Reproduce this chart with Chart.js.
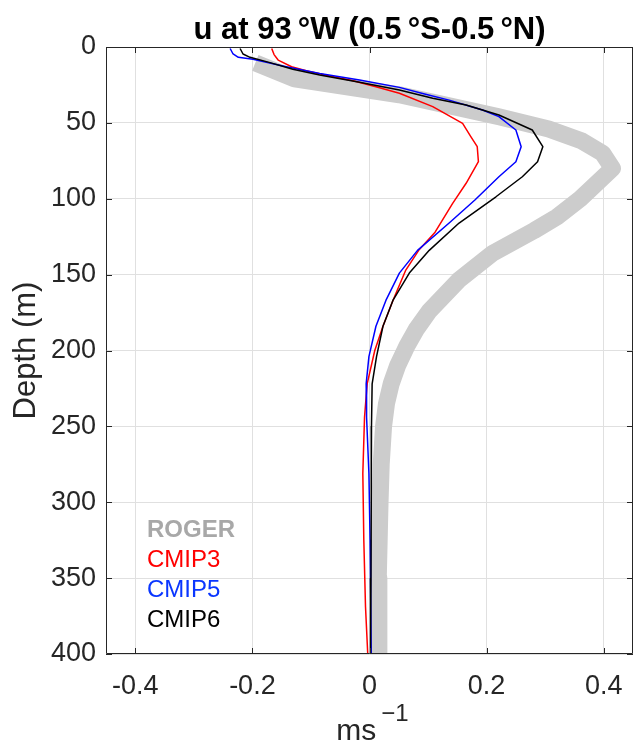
<!DOCTYPE html>
<html>
<head>
<meta charset="utf-8">
<script src="https://cdn.jsdelivr.net/npm/chart.js@4.4.0/dist/chart.umd.min.js"></script>
<style>
  html, body { margin: 0; padding: 0; background: #fff; }
  #wrap { width: 633px; height: 746px; position: relative; }
</style>
</head>
<body>
<div id="wrap"><canvas id="chart"></canvas></div>
<script>
const FONT = "'Liberation Sans', Arial, Helvetica, sans-serif";

const seriesNames = ['ROGER', 'CMIP3', 'CMIP5', 'CMIP6'];
const lineColors = ['#cccccc', '#ff0000', '#0000ff', '#000000'];
const legendColors = ['#a8a8a8', '#ff0000', '#0a36ff', '#000000'];

// depth (m) and zonal velocity u (m/s)
const rogerDepth = [10.5, 21, 31.5, 46, 54, 62, 70, 80, 100, 112, 121, 136, 153.5, 174, 186, 197, 210, 222, 235, 250, 275, 300, 350, 400];
const rogerU = [-0.195, -0.128, 0.051, 0.221, 0.306, 0.363, 0.398, 0.415, 0.36, 0.32, 0.281, 0.21, 0.153, 0.102, 0.08, 0.064, 0.048, 0.037, 0.029, 0.024, 0.02, 0.018, 0.015, 0.016];

const cmip3Depth = [1, 5, 8.6, 13, 15.6, 19.1, 22.2, 26.2, 30.5, 39.3, 50.3, 59, 65.7, 75.6, 89.8, 103, 122, 134, 147, 167, 184, 200, 222, 244, 281, 325, 369, 400];
const cmip3U = [-0.167, -0.163, -0.156, -0.133, -0.108, -0.068, -0.028, 0.011, 0.051, 0.108, 0.159, 0.173, 0.184, 0.186, 0.165, 0.142, 0.112, 0.084, 0.062, 0.04, 0.023, 0.009, -0.004, -0.0085, -0.0114, -0.0097, -0.0068, -0.003];

const cmip5Depth = [1, 4.6, 6.8, 8.1, 13, 17.4, 21.7, 26.6, 31, 35, 41.5, 45.9, 54.7, 65.7, 75.6, 85.5, 100.8, 116, 134, 149, 167, 184, 204, 222, 244, 281, 325, 360, 400];
const cmip5U = [-0.238, -0.233, -0.224, -0.199, -0.142, -0.085, -0.017, 0.051, 0.094, 0.136, 0.193, 0.221, 0.25, 0.259, 0.25, 0.221, 0.18, 0.136, 0.082, 0.051, 0.028, 0.011, -0.001, -0.0057, -0.005, -0.001, 0.001, 0.002, 0.003];

const cmip6Depth = [1, 4.6, 6.8, 10.3, 14.7, 18.5, 23.3, 28.3, 33.8, 38.2, 44.8, 54.7, 65.7, 75.6, 85.5, 98.7, 116, 134, 149, 167, 184, 204, 222, 250, 300, 350, 400];
const cmip6U = [-0.221, -0.216, -0.204, -0.170, -0.131, -0.085, -0.017, 0.051, 0.108, 0.165, 0.221, 0.278, 0.296, 0.287, 0.261, 0.216, 0.153, 0.102, 0.068, 0.04, 0.023, 0.012, 0.0045, 0.0034, 0.003, 0.0025, 0.0017];

const xTicks = [-0.4, -0.2, 0, 0.2, 0.4];
const yTicks = [0, 50, 100, 150, 200, 250, 300, 350, 400];

const toPoints = (us, depths) => us.map((u, i) => ({ x: u, y: depths[i] }));

const frame = {
  id: 'frame',
  afterDatasetsDraw(chart) {
    const { ctx, chartArea: a, scales: { x, y } } = chart;
    ctx.save();
    ctx.strokeStyle = '#262626';
    ctx.lineWidth = 1;
    ctx.beginPath();
    ctx.rect(Math.round(a.left) + 0.5, Math.round(a.top) + 0.5, Math.round(a.width) - 1, Math.round(a.height) - 1);
    const tl = 6;
    xTicks.forEach(v => {
      const px = Math.round(x.getPixelForValue(v)) + 0.5;
      ctx.moveTo(px, a.bottom); ctx.lineTo(px, a.bottom - tl);
      ctx.moveTo(px, a.top); ctx.lineTo(px, a.top + tl);
    });
    yTicks.forEach(v => {
      const py = Math.round(y.getPixelForValue(v)) + 0.5;
      ctx.moveTo(a.left, py); ctx.lineTo(a.left + tl, py);
      ctx.moveTo(a.right, py); ctx.lineTo(a.right - tl, py);
    });
    ctx.stroke();

    // legend as coloured text
    ctx.textAlign = 'left';
    ctx.textBaseline = 'alphabetic';
    seriesNames.forEach((name, i) => {
      ctx.font = (i === 0 ? 'bold ' : '') + '24px ' + FONT;
      ctx.fillStyle = legendColors[i];
      ctx.fillText(name, 147, 537 + i * 30);
    });

    // title
    const cx = (a.left + a.right) / 2;
    ctx.fillStyle = '#000';
    ctx.textAlign = 'center';
    ctx.font = 'bold 31px ' + FONT;
    ctx.fillText('u at 93\u2009°W (0.5\u2009°S-0.5\u2009°N)', cx, 39);

    // x axis title with superscript
    ctx.fillStyle = '#262626';
    ctx.font = '30px ' + FONT;
    const w1 = ctx.measureText('ms').width;
    ctx.font = '24px ' + FONT;
    const w2 = ctx.measureText('\u22121').width;
    const gap = 5;
    const x0 = cx + 3 - (w1 + gap + w2) / 2;
    ctx.textAlign = 'left';
    ctx.font = '30px ' + FONT;
    ctx.fillText('ms', x0, 740);
    ctx.font = '24px ' + FONT;
    ctx.fillText('\u22121', x0 + w1 + gap, 721);
    ctx.restore();
  }
};

const ds = (i, us, depths, width, order) => ({
  label: seriesNames[i],
  data: toPoints(us, depths),
  borderColor: lineColors[i],
  backgroundColor: lineColors[i],
  borderWidth: width,
  showLine: true,
  pointRadius: 0,
  tension: 0,
  clip: 0,
  order: order,
  borderCapStyle: 'butt',
  borderJoinStyle: 'round'
});

new Chart(document.getElementById('chart'), {
  type: 'scatter',
  data: {
    datasets: [
      ds(0, rogerU, rogerDepth, 17, 4),
      ds(1, cmip3U, cmip3Depth, 1.5, 3),
      ds(2, cmip5U, cmip5Depth, 1.5, 2),
      ds(3, cmip6U, cmip6Depth, 1.5, 1)
    ]
  },
  options: {
    responsive: true,
    maintainAspectRatio: false,
    animation: false,
    layout: { padding: { top: 47, right: 0, left: 0, bottom: 0 } },
    plugins: {
      legend: { display: false },
      title: { display: false },
      tooltip: { enabled: false }
    },
    scales: {
      x: {
        type: 'linear',
        min: -0.45,
        max: 0.45,
        afterBuildTicks: s => { s.ticks = xTicks.map(v => ({ value: v })); },
        afterFit: s => { s.height = 92; s.paddingLeft = 0; s.paddingRight = 0; },
        grid: { color: '#e0e0e0', drawTicks: false },
        border: { display: false },
        ticks: {
          color: '#262626',
          font: { family: FONT, size: 27 },
          padding: 16,
          maxRotation: 0,
          callback: v => (v === 0 ? '0' : v.toFixed(1))
        }
      },
      y: {
        type: 'linear',
        reverse: true,
        min: 0,
        max: 400,
        afterBuildTicks: s => { s.ticks = yTicks.map(v => ({ value: v })); },
        afterFit: s => { s.width = 106; s.paddingTop = 0; s.paddingBottom = 0; },
        grid: { color: '#e0e0e0', drawTicks: false },
        border: { display: false },
        ticks: {
          color: '#262626',
          font: { family: FONT, size: 27 },
          padding: 10
        },
        title: {
          display: true,
          text: 'Depth (m)',
          color: '#262626',
          font: { family: FONT, size: 31 },
          padding: { top: 8, bottom: 0 }
        }
      }
    }
  },
  plugins: [frame]
});
</script>
</body>
</html>
